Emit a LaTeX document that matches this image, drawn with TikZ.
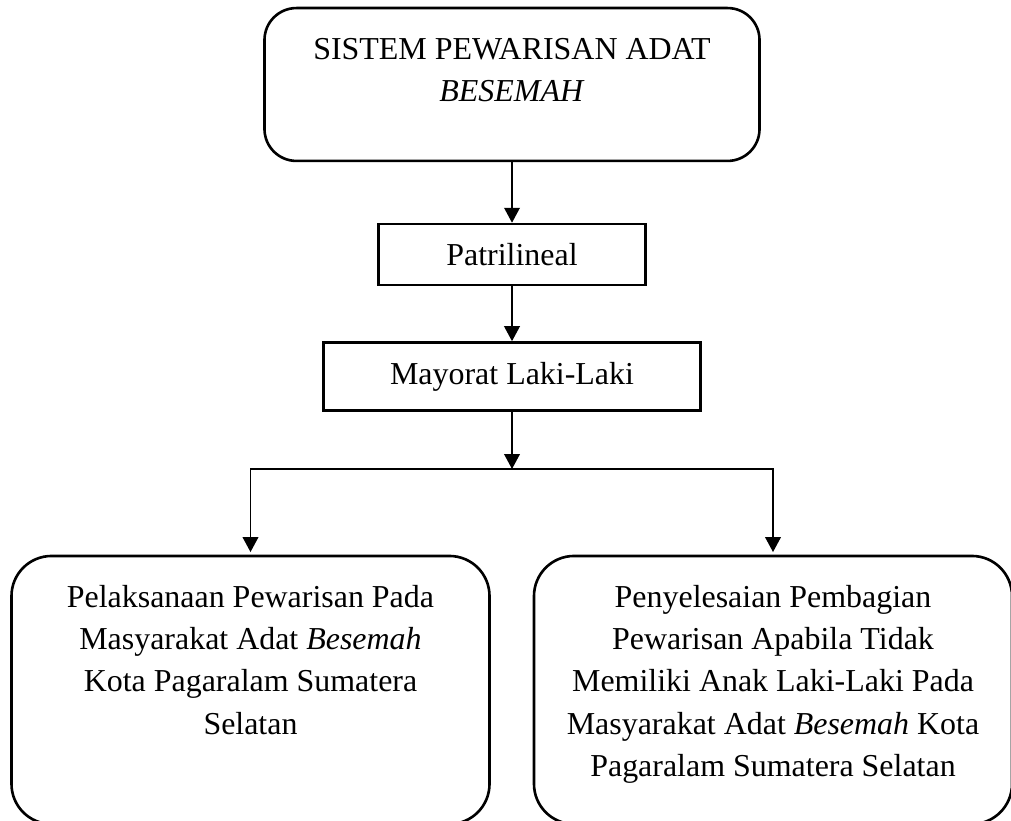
\documentclass[tikz,border=0pt]{standalone}
\usepackage{fontspec}
\setmainfont{Liberation Serif}
\usetikzlibrary{arrows.meta,positioning}

% text starting near the top of a fixed-size box
\newcommand{\toplines}[3]{\parbox[c][#1][t]{#2}{\centering\vspace*{8.2pt}\strut #3}}

\begin{document}
\begin{tikzpicture}[
    x=0.382pt, y=-0.382pt,
    font={\fontsize{12.2}{16.2}\selectfont},
    roundbox/.style={draw, line width=1pt, rounded corners=15.3pt, inner sep=0pt},
    plainbox/.style={draw, line width=1pt, inner sep=0pt, align=center},
    arrow/.style={-{Triangle[length=5.7pt,width=6pt]}, line width=0.5pt},
]
    \useasboundingbox (0,0) rectangle (1011,821);

    \node[roundbox, rounded corners=12.2pt] (sistem) at (512,84.5)
        {\toplines{58.4pt}{189.1pt}{SISTEM PEWARISAN ADAT\\ \textit{BESEMAH}}};
    \node[plainbox, minimum width=102pt, minimum height=23.3pt] (patri) at (512,254.5) {Patrilineal};
    \node[plainbox, minimum width=144pt, minimum height=26pt] (mayorat) at (512,376.5) {Mayorat Laki-Laki};
    \coordinate (cabang) at (512,469);

    \node[roundbox] (pelaksanaan) at (250.5,690)
        {\toplines{102.4pt}{182.6pt}{Pelaksanaan Pewarisan Pada\\ Masyarakat Adat \textit{Besemah}\\ Kota Pagaralam Sumatera\\ Selatan}};
    \node[roundbox] (penyelesaian) at (773,690)
        {\toplines{102.4pt}{182.6pt}{Penyelesaian Pembagian\\ Pewarisan Apabila Tidak\\ Memiliki Anak Laki-Laki Pada\\ Masyarakat Adat \textit{Besemah} Kota\\ Pagaralam Sumatera Selatan}};

    \draw[arrow] (sistem) -- (patri);
    \draw[arrow] (patri) -- (mayorat);
    \draw[arrow] (mayorat) -- (cabang);
    \draw[arrow, shorten >=1pt] (cabang) -| (pelaksanaan);
    \draw[arrow, shorten >=1pt] (cabang) -| (penyelesaian);
\end{tikzpicture}
\end{document}
